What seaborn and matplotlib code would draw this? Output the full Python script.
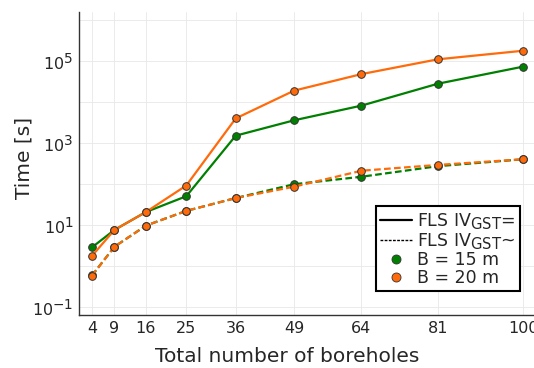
import numpy as np
import pandas as pd
import matplotlib
matplotlib.use("Agg")
import matplotlib.pyplot as plt
import seaborn as sns
from matplotlib.lines import Line2D

# Number of boreholes and computation times [s]
boreholes = [4, 9, 16, 25, 36, 49, 64, 81, 100]
fls_eq_b15 = [2.9, 7.7, 21, 51, 1520, 3600, 8200, 28000, 73000]
fls_eq_b20 = [1.8, 7.7, 21, 93, 4000, 19000, 48000, 110000, 178000]
fls_ti_b15 = [0.6, 3.0, 9.8, 22.4, 46, 100, 152, 275, 405]
fls_ti_b20 = [0.59, 3.0, 9.8, 22.4, 46, 87, 213, 295, 405]

colors = {"15": "#008000", "20": "#FF6A0A"}


def build_frame():
    rows = []
    for b, meth, vals in [("15", "eq", fls_eq_b15), ("15", "ti", fls_ti_b15),
                          ("20", "eq", fls_eq_b20), ("20", "ti", fls_ti_b20)]:
        for n, t in zip(boreholes, vals):
            rows.append({"n": n, "time": t, "B": b, "method": meth})
    return pd.DataFrame(rows)


df = build_frame()

sns.set_style("white")
plt.rcParams["font.family"] = ["DejaVu Sans"]
plt.rcParams["mathtext.fontset"] = "dejavusans"

# sub/superscripts in the original are nearly full size
try:
    import matplotlib._mathtext as _mt
    _mt.SHRINK_FACTOR = 0.85
except Exception:
    pass

fig = plt.figure(figsize=(5.34, 3.68), dpi=100)
ax = fig.add_axes([0.148, 0.144, 0.856, 0.823])

for b in ["15", "20"]:
    for meth in ["eq", "ti"]:
        sub = df[(df.B == b) & (df.method == meth)]
        sns.lineplot(data=sub, x="n", y="time", ax=ax, color=colors[b],
                     linewidth=1.6, marker="o", markersize=5.5,
                     markeredgecolor="#333333", markeredgewidth=0.7,
                     linestyle="-" if meth == "eq" else (0, (3, 1.5)),
                     legend=False)

ax.set_yscale("log")
ax.set_xlim(1.12, 102.88)
ax.set_ylim(10 ** -1.185, 10 ** 6.19)
ax.set_xticks(boreholes)
ax.set_xticklabels([str(n) for n in boreholes])
ax.set_yticks([1e-1, 1e1, 1e3, 1e5])
ax.set_yticklabels([r"$10^{-1}$", r"$10^{1}$", r"$10^{3}$", r"$10^{5}$"])
ax.set_yticks([1e0, 1e2, 1e4, 1e6], minor=True)
ax.tick_params(axis="both", which="both", direction="in", length=3,
               width=0.8, labelsize=11.5, color="#333333", pad=4)
ax.tick_params(axis="y", which="minor", labelleft=False)
ax.grid(True, which="both", color="#e8e8e8", linewidth=0.6)
ax.set_axisbelow(True)

for side in ["top", "right"]:
    ax.spines[side].set_visible(False)
for side in ["left", "bottom"]:
    ax.spines[side].set_color("#333333")
    ax.spines[side].set_linewidth(1.0)

ax.set_xlabel("Total number of boreholes", fontsize=14.5)
ax.set_ylabel("Time [s]", fontsize=14.5)
ax.xaxis.set_label_coords(0.455, -0.105)
ax.yaxis.set_label_coords(-0.10, 0.52)

handles = [
    Line2D([], [], color="black", linewidth=1.6, linestyle="-"),
    Line2D([], [], color="black", linewidth=1.0, linestyle=(0, (2, 1))),
    Line2D([], [], color=colors["15"], marker="o", linestyle="none",
           markersize=6.5, markeredgecolor="#333333", markeredgewidth=0.6),
    Line2D([], [], color=colors["20"], marker="o", linestyle="none",
           markersize=6.5, markeredgecolor="#333333", markeredgewidth=0.6),
]
labels = [r"FLS IV$_{\mathrm{GST}}$=", r"FLS IV$_{\mathrm{GST}}$~",
          "B = 15 m", "B = 20 m"]
leg = ax.legend(handles, labels, loc="lower right",
                bbox_to_anchor=(0.965, 0.079), fontsize=12.5, frameon=True,
                fancybox=False, framealpha=1, edgecolor="black",
                handlelength=1.85, handletextpad=0.3, labelspacing=0.0,
                borderpad=0.25, borderaxespad=0)
leg.get_frame().set_linewidth(1.5)

fig.savefig("out.png", dpi=100)
